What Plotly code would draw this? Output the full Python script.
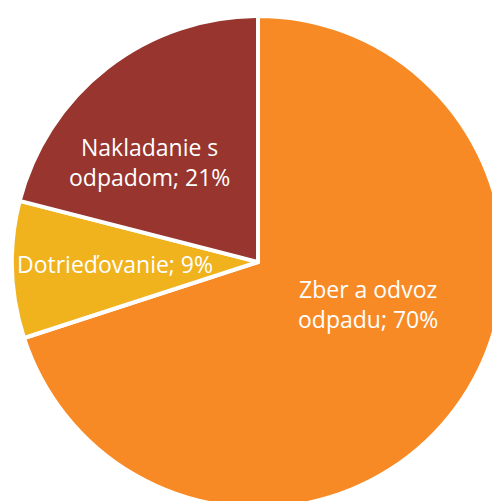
import math
import plotly.graph_objects as go

labels = ["Zber a odvoz odpadu", "Dotrieďovanie", "Nakladanie s odpadom"]
values = [70, 9, 21]
wrapped = ["Zber a odvoz<br>odpadu; 70%", "Dotrieďovanie; 9%", "Nakladanie s<br>odpadom; 21%"]
colors = ["#F88A26", "#F0B21D", "#97352E"]
label_radius = [0.48, 0.58, 0.60]     # fraction of pie radius for label placement
label_angle_shift = [-15, 1, -9.5]    # degrees, label offset from slice mid-angle

W, H = 520, 530
cx, cy, R = 258, 262, 246

fig = go.Figure(go.Pie(
    labels=labels, values=values, sort=False, direction="clockwise", rotation=0,
    marker=dict(colors=colors, line=dict(color="white", width=4)),
    textinfo="none", hoverinfo="label+percent", showlegend=False,
    domain=dict(x=[(cx - R) / W, (cx + R) / W], y=[1 - (cy + R) / H, 1 - (cy - R) / H]),
))

total = sum(values)
cum = 0
for v, t, rf, da in zip(values, wrapped, label_radius, label_angle_shift):
    mid = (cum + v / 2) / total * 2 * math.pi + math.radians(da)
    cum += v
    px = cx + rf * R * math.sin(mid)
    py = cy - rf * R * math.cos(mid)
    fig.add_annotation(x=px / W, y=1 - py / H, xref="paper", yref="paper", text=t,
                       showarrow=False, font=dict(color="white", size=23, family="Open Sans"),
                       xanchor="center", yanchor="middle")

fig.update_layout(width=W, height=H, margin=dict(l=0, r=0, t=0, b=0),
                  paper_bgcolor="white", plot_bgcolor="white")

fig.write_html("out.html", config={"displayModeBar": False},
               post_script="document.body.style.margin='0';document.body.style.overflow='hidden';")
